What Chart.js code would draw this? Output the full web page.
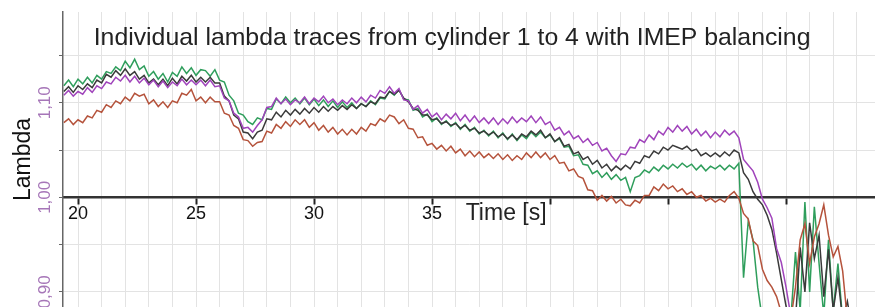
<!DOCTYPE html>
<html>
<head>
<meta charset="utf-8">
<script src="https://cdn.jsdelivr.net/npm/chart.js@4/dist/chart.umd.min.js"></script>
<style>
  html, body { margin: 0; padding: 0; background: #fff; }
  #wrap { width: 875px; height: 307px; position: relative; }
</style>
</head>
<body>
<div id="wrap"><canvas id="myChart"></canvas></div>
<script>
var seconds = [
  19.4,19.6,19.8,20.0,20.2,20.4,20.6,20.8,21.0,21.2,
  21.4,21.6,21.8,22.0,22.2,22.4,22.6,22.8,23.0,23.2,
  23.4,23.6,23.8,24.0,24.2,24.4,24.6,24.8,25.0,25.2,
  25.4,25.6,25.8,26.0,26.2,26.4,26.6,26.8,27.0,27.2,
  27.4,27.6,27.8,28.0,28.2,28.4,28.6,28.8,29.0,29.2,
  29.4,29.6,29.8,30.0,30.2,30.4,30.6,30.8,31.0,31.2,
  31.4,31.6,31.8,32.0,32.2,32.4,32.6,32.8,33.0,33.2,
  33.4,33.6,33.8,34.0,34.2,34.4,34.6,34.8,35.0,35.2,
  35.4,35.6,35.8,36.0,36.2,36.4,36.6,36.8,37.0,37.2,
  37.4,37.6,37.8,38.0,38.2,38.4,38.6,38.8,39.0,39.2,
  39.4,39.6,39.8,40.0,40.2,40.4,40.6,40.8,41.0,41.2,
  41.4,41.6,41.8,42.0,42.2,42.4,42.6,42.8,43.0,43.2,
  43.4,43.6,43.8,44.0,44.2,44.4,44.6,44.8,45.0,45.2,
  45.4,45.6,45.8,46.0,46.2,46.4,46.6,46.8,47.0,47.2,
  47.4,47.6,47.8,48.0,48.2,48.4,48.6,48.8,49.0,49.2,
  49.4,49.6,49.8,50.0,50.2,50.4,50.6,50.8,51.0,51.2,
  51.4,51.6,51.8,52.0,52.2,52.4,52.6,52.8,53.0,53.2,
  53.4,53.6
];

var lambdaPurple = [
  1.108,1.113,1.107,1.112,1.109,1.116,1.111,1.118,1.115,1.122,
  1.120,1.127,1.123,1.129,1.122,1.128,1.121,1.126,1.119,1.124,
  1.117,1.123,1.116,1.122,1.118,1.125,1.119,1.124,1.119,1.124,
  1.118,1.124,1.117,1.118,1.105,1.102,1.089,1.085,1.073,1.074,
  1.069,1.076,1.082,1.095,1.096,1.105,1.099,1.104,1.098,1.103,
  1.100,1.106,1.099,1.105,1.101,1.107,1.100,1.104,1.098,1.103,
  1.099,1.105,1.100,1.106,1.101,1.108,1.105,1.113,1.110,1.117,
  1.110,1.115,1.103,1.102,1.093,1.097,1.089,1.093,1.085,1.089,
  1.082,1.088,1.083,1.089,1.081,1.087,1.080,1.086,1.079,1.084,
  1.078,1.084,1.077,1.083,1.078,1.085,1.079,1.084,1.080,1.086,
  1.079,1.085,1.077,1.080,1.071,1.074,1.066,1.070,1.062,1.065,
  1.058,1.062,1.055,1.058,1.049,1.052,1.044,1.038,1.046,1.045,
  1.053,1.052,1.061,1.058,1.066,1.061,1.070,1.066,1.074,1.069,
  1.076,1.070,1.075,1.067,1.072,1.065,1.070,1.063,1.069,1.064,
  1.071,1.066,1.070,1.063,1.040,1.034,1.028,1.016,0.998,0.989,
  0.978,0.946,0.931,0.905,0.875,0.860,0.860,0.860,0.860,0.860,
  0.860,0.860,0.860,0.860,0.860,0.860,0.860,0.860,0.860,0.860,
  0.860,0.860
];

var lambdaBlack = [
  1.112,1.117,1.111,1.118,1.114,1.120,1.116,1.124,1.121,1.130,
  1.127,1.134,1.129,1.136,1.129,1.133,1.125,1.129,1.121,1.125,
  1.119,1.125,1.118,1.126,1.120,1.128,1.123,1.129,1.122,1.127,
  1.122,1.127,1.121,1.121,1.107,1.102,1.087,1.083,1.069,1.068,
  1.062,1.069,1.071,1.083,1.082,1.090,1.085,1.092,1.087,1.093,
  1.088,1.094,1.089,1.095,1.090,1.096,1.091,1.096,1.092,1.097,
  1.093,1.098,1.094,1.099,1.096,1.101,1.099,1.106,1.105,1.112,
  1.109,1.113,1.105,1.101,1.094,1.092,1.087,1.087,1.082,1.083,
  1.078,1.080,1.076,1.078,1.073,1.076,1.071,1.073,1.068,1.070,
  1.066,1.069,1.064,1.067,1.062,1.066,1.061,1.067,1.064,1.070,
  1.066,1.071,1.063,1.067,1.059,1.063,1.054,1.056,1.046,1.048,
  1.040,1.043,1.035,1.039,1.031,1.035,1.028,1.033,1.029,1.034,
  1.030,1.038,1.036,1.044,1.042,1.049,1.046,1.053,1.050,1.055,
  1.053,1.051,1.054,1.049,1.051,1.044,1.047,1.043,1.047,1.043,
  1.048,1.044,1.050,1.047,1.026,1.019,1.006,0.998,0.992,0.981,
  0.966,0.941,0.913,0.885,0.865,0.870,0.947,0.900,0.973,0.935,
  0.960,0.895,0.945,0.880,0.915,0.870,0.890,0.860,0.860,0.860,
  0.860,0.860
];

var lambdaGreen = [
  1.118,1.124,1.117,1.125,1.120,1.127,1.121,1.129,1.125,1.133,
  1.131,1.138,1.134,1.144,1.137,1.146,1.135,1.139,1.128,1.133,
  1.125,1.131,1.122,1.132,1.128,1.138,1.131,1.137,1.129,1.135,
  1.134,1.128,1.135,1.124,1.122,1.108,1.102,1.089,1.087,1.080,
  1.077,1.084,1.082,1.094,1.093,1.104,1.099,1.106,1.100,1.105,
  1.099,1.105,1.098,1.104,1.097,1.103,1.096,1.102,1.095,1.101,
  1.095,1.100,1.094,1.099,1.096,1.102,1.098,1.105,1.104,1.112,
  1.108,1.114,1.104,1.103,1.092,1.094,1.085,1.088,1.080,1.084,
  1.077,1.081,1.075,1.079,1.072,1.077,1.070,1.074,1.067,1.071,
  1.065,1.070,1.063,1.068,1.061,1.067,1.060,1.066,1.062,1.069,
  1.064,1.069,1.063,1.066,1.059,1.062,1.053,1.054,1.044,1.045,
  1.035,1.034,1.025,1.028,1.021,1.026,1.019,1.024,1.018,1.021,
  1.006,1.021,1.023,1.029,1.026,1.032,1.028,1.034,1.030,1.035,
  1.031,1.036,1.032,1.035,1.029,1.034,1.028,1.033,1.030,1.034,
  1.029,1.034,1.030,1.036,0.915,0.975,0.955,0.905,0.870,0.860,
  0.860,0.860,0.870,0.860,0.870,0.942,0.880,0.995,0.900,0.990,
  0.930,0.875,0.955,0.880,0.930,0.870,0.860,0.860,0.860,0.860,
  0.860,0.860
];

var lambdaRed = [
  1.079,1.083,1.077,1.082,1.079,1.086,1.084,1.092,1.090,1.098,
  1.095,1.102,1.099,1.106,1.102,1.110,1.107,1.109,1.099,1.103,
  1.096,1.101,1.095,1.102,1.100,1.110,1.108,1.114,1.102,1.106,
  1.100,1.106,1.101,1.101,1.089,1.087,1.076,1.073,1.061,1.060,
  1.054,1.058,1.059,1.070,1.068,1.077,1.073,1.080,1.075,1.082,
  1.077,1.082,1.074,1.079,1.071,1.076,1.069,1.074,1.067,1.072,
  1.066,1.072,1.067,1.074,1.070,1.078,1.076,1.083,1.080,1.087,
  1.085,1.078,1.082,1.073,1.072,1.063,1.064,1.055,1.057,1.051,
  1.055,1.049,1.054,1.047,1.051,1.044,1.049,1.043,1.048,1.042,
  1.046,1.041,1.046,1.040,1.045,1.039,1.044,1.040,1.047,1.042,
  1.048,1.042,1.047,1.040,1.044,1.036,1.037,1.028,1.030,1.022,
  1.020,1.008,1.007,0.997,1.002,0.996,1.001,0.994,0.998,0.992,
  0.991,0.997,0.994,1.002,1.002,1.011,1.007,1.014,1.009,1.012,
  1.006,1.009,1.003,1.006,1.000,1.002,0.996,0.999,0.995,0.998,
  0.995,1.002,1.006,0.999,0.983,0.977,0.954,0.949,0.924,0.912,
  0.905,0.895,0.878,0.865,0.870,0.905,0.955,0.972,0.930,0.958,
  0.972,0.992,0.960,0.937,0.948,0.922,0.870,0.860,0.860,0.860,
  0.860,0.860
];

var titleText = 'Individual lambda traces from cylinder 1 to 4 with IMEP balancing';
var xTitle = 'Time [s]';
var yTitle = 'Lambda';
var labelledSeconds = [20, 25, 30, 35];
var labelledLambda = [0.9, 1.0, 1.1];

function points(values) {
  return seconds.map(function(t, i) { return { x: t, y: values[i] }; });
}

Chart.defaults.font.family = "'Liberation Sans', Arial, sans-serif";

// title and x axis caption sit inside the plot, placed with the scales
var textPlugin = {
  id: 'insideText',
  afterDraw: function(chart) {
    var ctx = chart.ctx, xs = chart.scales.x, ys = chart.scales.y;
    ctx.save();
    ctx.fillStyle = '#222';
    ctx.textAlign = 'center';
    ctx.textBaseline = 'alphabetic';
    ctx.font = "24.8px 'Liberation Sans', Arial, sans-serif";
    ctx.fillText(titleText, xs.getPixelForValue(35.85), ys.getPixelForValue(1.1614));
    ctx.font = "23px 'Liberation Sans', Arial, sans-serif";
    ctx.fillText(xTitle, xs.getPixelForValue(38.14), ys.getPixelForValue(0.9762));
    ctx.restore();
  }
};

var config = {
  type: 'line',
  data: {
    datasets: [
      { label: 'cylinder 1', data: points(lambdaPurple), borderColor: '#a044bb' },
      { label: 'cylinder 2', data: points(lambdaRed), borderColor: '#b5533c' },
      { label: 'cylinder 3', data: points(lambdaBlack), borderColor: '#3a3a3a' },
      { label: 'cylinder 4', data: points(lambdaGreen), borderColor: '#2f9e5c' }
    ]
  },
  options: {
    responsive: true,
    maintainAspectRatio: false,
    animation: false,
    layout: { padding: { top: 12, left: 0, right: 0, bottom: 0 } },
    elements: {
      point: { radius: 0 },
      line: { borderWidth: 1.5, tension: 0 }
    },
    plugins: {
      legend: { display: false },
      tooltip: { enabled: false }
    },
    scales: {
      x: {
        type: 'linear',
        position: { y: 1.0 },
        min: 19.364,
        max: 53.77,
        border: { color: '#333', width: 2.5 },
        grid: {
          color: '#e3e3e3',
          lineWidth: 1,
          tickLength: 6,
          tickWidth: 2,
          tickColor: function(c) {
            return c.tick && c.tick.value % 5 === 0 ? '#222' : 'rgba(0,0,0,0)';
          }
        },
        ticks: {
          stepSize: 1,
          includeBounds: false,
          autoSkip: false,
          maxRotation: 0,
          padding: 0,
          color: '#111',
          font: { size: 18 },
          callback: function(v) {
            return labelledSeconds.indexOf(v) >= 0 ? String(v) : '';
          }
        },
        afterFit: function(s) { s.paddingLeft = 0; s.paddingRight = 0; }
      },
      y: {
        min: 0.884,
        max: 1.196,
        border: { color: '#666', width: 1.5 },
        grid: { color: '#e3e3e3', lineWidth: 1, tickLength: 4, tickColor: '#666' },
        ticks: {
          stepSize: 0.05,
          includeBounds: false,
          minRotation: 90,
          maxRotation: 90,
          crossAlign: 'center',
          padding: -3,
          color: '#a676b8',
          font: { size: 17 },
          callback: function(v) {
            var r = Math.round(v * 100) / 100;
            return labelledLambda.some(function(l) { return Math.abs(l - r) < 1e-6; })
              ? r.toFixed(2).replace('.', ',') : '';
          }
        },
        title: {
          display: true,
          text: yTitle,
          color: '#111',
          font: { size: 23 },
          padding: { top: 10, bottom: 0 }
        },
        afterFit: function(s) { s.width = 63; s.paddingTop = 0; s.paddingBottom = 0; }
      }
    }
  },
  plugins: [textPlugin]
};

var ctx = document.getElementById('myChart').getContext('2d');
var myChart = new Chart(ctx, config);
</script>
</body>
</html>
